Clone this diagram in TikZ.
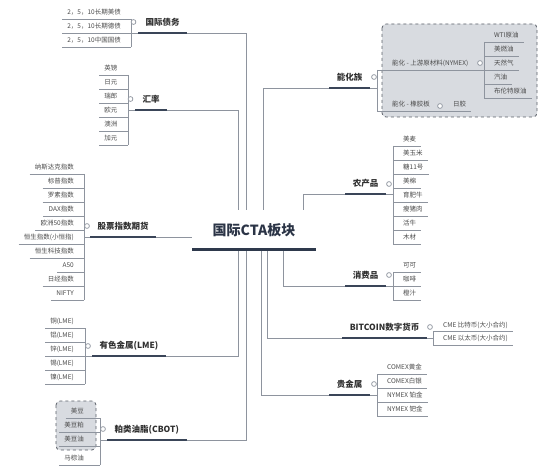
\documentclass[tikz,border=0pt]{standalone}
\usepackage{fontspec}
\setmainfont{Noto Sans CJK SC}
\definecolor{linec}{HTML}{8E949E}
\definecolor{topicline}{HTML}{3A4558}
\definecolor{ctrline}{HTML}{2E394C}
\definecolor{txt}{HTML}{2F2F2F}
\definecolor{ctrtxt}{HTML}{2B3446}
\definecolor{leaftxt}{HTML}{4A4A4A}
\definecolor{boxfill}{HTML}{D8DBE0}
\definecolor{boxline}{HTML}{5A5F68}
\tikzset{
 leafL/.style={anchor=south east, font=\fontsize{6.5}{7}\selectfont, text=leaftxt, inner xsep=5pt, inner ysep=2.5pt, text height=5pt, text depth=1.5pt},
 leafR/.style={leafL, anchor=south west},
 topicL/.style={anchor=south west, font=\fontsize{8.5}{9}\selectfont\bfseries, text=txt, inner xsep=7.5pt, inner ysep=5pt, text height=6.5pt, text depth=2pt},
 topicR/.style={topicL, anchor=south east},
 thinl/.style={draw=linec, line width=0.8pt},
 topicul/.style={draw=topicline, line width=2.4pt},
 knob/.style={circle, draw=linec, fill=white, line width=0.7pt, minimum size=4.8pt, inner sep=0pt},
 boundary/.style={draw=boxline, dashed, fill=boxfill, rounded corners=4pt, line width=0.8pt},
}
\begin{document}
\begin{tikzpicture}[x=1pt,y=-1pt]
\useasboundingbox (0,0) rectangle (554,470);

% centre
\node[anchor=south, minimum height=40pt, inner xsep=20pt, font=\fontsize{14}{16}\selectfont\bfseries, text=ctrtxt] (ctr) at (254,250) {国际CTA板块};

% boundaries
\draw[boundary] (56,401) rectangle (96,450);
\draw[boundary] (382,24) rectangle (537,117);

% ---- A 国际债务
\coordinate (as) at (131,0);
\foreach \t [count=\i] in {2，5，10长期美债,2，5，10长期德债,2，5，10中国国债} {
  \node[leafL] (a\i) at (126,{19+14*(\i-1)}) {\t};
  \draw[thinl] (a\i.south west) -- (a\i.south west -| as);
}
\draw[thinl] (a1.south west -| as) -- (a3.south west -| as);
\node[topicL] (at) at (138,33) {国际债务};
\draw[thinl] (at.south west -| as) -- (at.south west);
\draw[topicul] (at.south west) -- (at.south east);
\draw[thinl] (at.south east) -| ([xshift=-8pt]ctr.north);
\node[knob] (am) at (133.5,22) {};

% ---- B 汇率
\coordinate (bs) at (128,0);
\foreach \t [count=\i] in {英镑,日元,瑞郎,欧元,澳洲,加元} {
  \node[leafL] (b\i) at (122.5,{75+14*(\i-1)}) {\t};
  \draw[thinl] (b\i.south west) -- (b\i.south west -| bs);
}
\draw[thinl] (b1.south west -| bs) -- (b6.south west -| bs);
\node[topicL] (bt) at (135,110) {汇率};
\draw[thinl] (bt.south west -| bs) -- (bt.south west);
\draw[topicul] (bt.south west) -- (bt.south east);
\draw[thinl] (bt.south east) -| ([xshift=-16pt]ctr.north);
\node[knob] (bm) at (130.5,99) {};

% ---- C 股票指数期货
\coordinate (cs) at (84,0);
\foreach \t [count=\i] in {纳斯达克指数,标普指数,罗素指数,DAX指数,欧洲50指数,恒生指数(小恒指),恒生科技指数,A50,日经指数,NIFTY} {
  \node[leafL] (c\i) at (79,{174+14*(\i-1)}) {\t};
  \draw[thinl] (c\i.south west) -- (c\i.south west -| cs);
}
\draw[thinl] (c1.south west -| cs) -- (c10.south west -| cs);
\node[topicL] (ct) at (90,237) {股票指数期货};
\draw[thinl] (ct.south west -| cs) -- (ct.south west);
\draw[topicul] (ct.south west) -- (ct.south east);
\draw[thinl] (ct.south east) -- (ct.south east -| ctr.west);
\node[knob] (cm) at (87,226) {};

% ---- D 有色金属
\coordinate (ds) at (85,0);
\foreach \t [count=\i] in {铜(LME),铝(LME),锌(LME),锡(LME),镍(LME)} {
  \node[leafL] (d\i) at (79,{328+14*(\i-1)}) {\t};
  \draw[thinl] (d\i.south west) -- (d\i.south west -| ds);
}
\draw[thinl] (d1.south west -| ds) -- (d5.south west -| ds);
\node[topicL] (dt) at (92,356) {有色金属(LME)};
\draw[thinl] (dt.south west -| ds) -- (dt.south west);
\draw[topicul] (dt.south west) -- (dt.south east);
\draw[thinl] (dt.south east) -| ([xshift=-16pt]ctr.south);
\node[knob] (dm) at (88,346) {};

% ---- E 粕类油脂
\coordinate (es) at (100,0);
\node[leafL] (e1) at (89,418) {美豆};
\node[leafL] (e2) at (89,432) {美豆粕};
\node[leafL] (e3) at (89,446) {美豆油};
\node[leafL] (e4) at (89,465) {马棕油};
\foreach \i in {1,...,4} {\draw[thinl] (e\i.south west) -- (e\i.south west -| es);}
\draw[thinl] (e1.south west -| es) -- (e4.south west -| es);
\node[topicL] (et) at (107,440) {粕类油脂(CBOT)};
\draw[thinl] (et.south west -| es) -- (et.south west);
\draw[topicul] (et.south west) -- (et.south east);
\draw[thinl] (et.south east) -| ([xshift=-8pt]ctr.south);
\node[knob] (em) at (103,429) {};

% ---- F 能化族
\coordinate (fs) at (377,0);
\coordinate (gs) at (484,0);
\node[topicR] (ft) at (370,88) {能化族};
\draw[topicul] (ft.south west) -- (ft.south east);
\draw[thinl] ([xshift=9pt]ctr.north) |- (ft.south west);
\draw[thinl] (ft.south east) -- (ft.south east -| fs);
\node[knob] (fm) at (374,77) {};
\node[leafR] (f1) at (387,70) {能化 - 上游原材料(NYMEX)};
\node[leafR] (f2) at (387,111) {能化 - 橡胶板};
\node[leafR] (f3) at (448,111) {日胶};
\draw[thinl] (f1.south west -| fs) -- (f2.south west -| fs);
\draw[thinl] (f1.south west -| fs) -- (f1.south west -| gs);
\draw[thinl] (f2.south west -| fs) -- (f3.south east);
\node[knob] (fm1) at (480,63) {};
\node[knob] (fm2) at (440,106) {};
\foreach \t [count=\i] in {WTI原油,美燃油,天然气,汽油,布伦特原油} {
  \node[leafR] (fa\i) at (489,{42+14*(\i-1)}) {\t};
  \draw[thinl] (fa\i.south west -| gs) -- (fa\i.south east);
}
\draw[thinl] (fa1.south west -| gs) -- (fa5.south west -| gs);

% ---- G 农产品
\coordinate (gg) at (393,0);
\node[topicR] (gt) at (386,194) {农产品};
\draw[topicul] (gt.south west) -- (gt.south east);
\draw[thinl] ([xshift=49pt]ctr.north) |- (gt.south west);
\draw[thinl] (gt.south east) -- (gt.south east -| gg);
\node[knob] (gm) at (389,184) {};
\foreach \t [count=\i] in {美麦,美玉米,糖11号,美棉,育肥牛,瘦猪肉,活牛,木材} {
  \node[leafR] (g\i) at (398,{146+14*(\i-1)}) {\t};
  \draw[thinl] (g\i.south west -| gg) -- (g\i.south east);
}
\draw[thinl] (g1.south west -| gg) -- (g8.south west -| gg);

% ---- H 消费品
\coordinate (hs) at (393,0);
\node[topicR] (ht) at (386,286) {消费品};
\draw[topicul] (ht.south west) -- (ht.south east);
\draw[thinl] ([xshift=29pt]ctr.south) |- (ht.south west);
\draw[thinl] (ht.south east) -- (ht.south east -| hs);
\node[knob] (hm) at (389,275) {};
\foreach \t [count=\i] in {可可,咖啡,橙汁} {
  \node[leafR] (h\i) at (398,{272+14*(\i-1)}) {\t};
  \draw[thinl] (h\i.south west -| hs) -- (h\i.south east);
}
\draw[thinl] (h1.south west -| hs) -- (h3.south west -| hs);

% ---- I BITCOIN
\coordinate (is) at (433,0);
\node[topicR] (it) at (427,338) {BITCOIN数字货币};
\draw[topicul] (it.south west) -- (it.south east);
\draw[thinl] ([xshift=13pt]ctr.south) |- (it.south west);
\draw[thinl] (it.south east) -- (it.south east -| is);
\node[knob] (im) at (430,327) {};
\node[leafR] (i1) at (438,331.5) {CME 比特币(大小合约)};
\node[leafR] (i2) at (438,345) {CME 以太币(大小合约)};
\foreach \i in {1,2} {\draw[thinl] (i\i.south west -| is) -- (i\i.south east);}
\draw[thinl] (i1.south west -| is) -- (i2.south west -| is);

% ---- J 贵金属
\coordinate (js) at (377,0);
\node[topicR] (jt) at (370,395) {贵金属};
\draw[topicul] (jt.south west) -- (jt.south east);
\draw[thinl] ([xshift=7pt]ctr.south) |- (jt.south west);
\draw[thinl] (jt.south east) -- (jt.south east -| js);
\node[knob] (jm) at (374,384) {};
\foreach \t [count=\i] in {COMEX黄金,COMEX白银,NYMEX 铂金,NYMEX 钯金} {
  \node[leafR] (j\i) at (382,{374+14*(\i-1)}) {\t};
  \draw[thinl] (j\i.south west -| js) -- (j\i.south east);
}
\draw[thinl] (j1.south west -| js) -- (j4.south west -| js);

% centre underline
\draw[line width=3pt, draw=ctrline] (ctr.south west) -- (ctr.south east);
\end{tikzpicture}
\end{document}
